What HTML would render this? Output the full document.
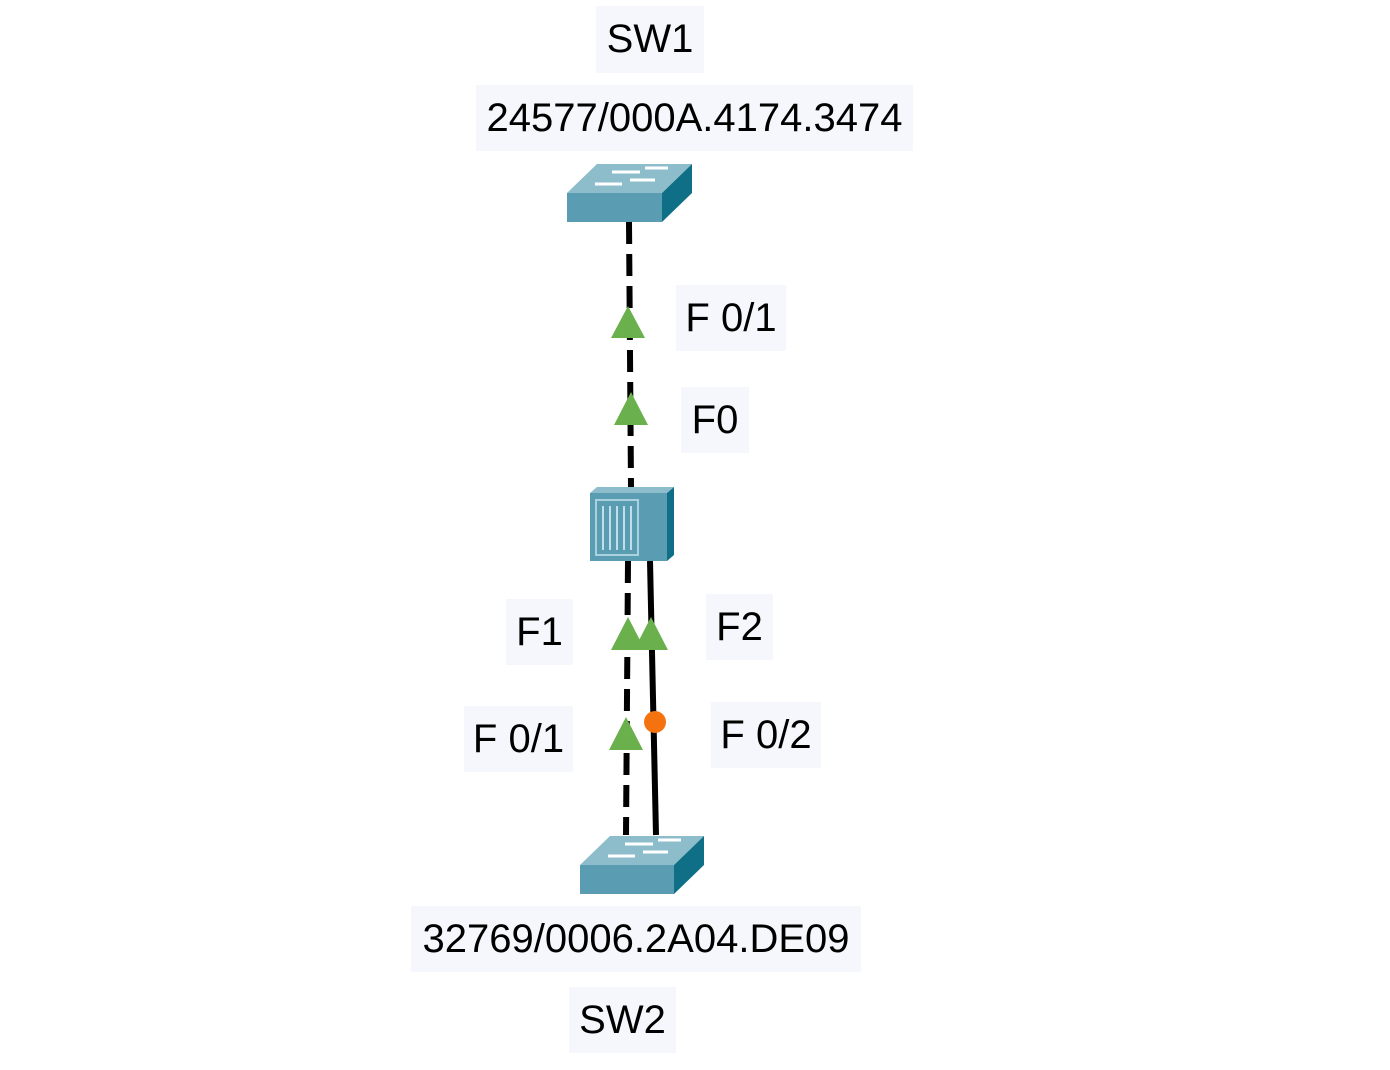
<!DOCTYPE html>
<html><head><style>
body{margin:0;width:1390px;height:1070px;background:#fff;position:relative;overflow:hidden;font-family:"Liberation Sans",Arial,sans-serif}
.l{position:absolute;background:#f6f7fc;font-size:40px;color:#000;display:flex;align-items:center;justify-content:center}
svg{position:absolute;left:0;top:0}
</style></head><body>
<svg width="1390" height="1070">
<g stroke="#000" stroke-width="6" fill="none">
<line x1="629" y1="222" x2="631" y2="487" stroke-dasharray="22,10"/>
<line x1="628" y1="561" x2="626" y2="835" stroke-dasharray="22,10"/>
<line x1="650" y1="561" x2="656" y2="835"/>
</g>
<polygon points="567,193 597,164 692,164 662,193" fill="#8dbccb"/>
<rect x="567" y="193" width="95" height="29" fill="#5a9db3"/>
<polygon points="662,193 692,164 692,193 662,222" fill="#0f6f86"/>
<g stroke="#fff" stroke-width="3"><line x1="612" y1="172" x2="640" y2="172"/><line x1="645" y1="168" x2="668" y2="168"/><line x1="595" y1="184" x2="622" y2="184"/><line x1="630" y1="180" x2="655" y2="180"/></g>
<polygon points="580,865 610,836 704,836 674,865" fill="#8dbccb"/>
<rect x="580" y="865" width="94" height="29" fill="#5a9db3"/>
<polygon points="674,865 704,836 704,865 674,894" fill="#0f6f86"/>
<g stroke="#fff" stroke-width="3"><line x1="625" y1="844" x2="653" y2="844"/><line x1="658" y1="840" x2="681" y2="840"/><line x1="608" y1="856" x2="635" y2="856"/><line x1="643" y1="852" x2="668" y2="852"/></g>
<polygon points="590,493 597,487 674,487 667,493" fill="#8dbccb"/>
<rect x="590" y="493" width="77" height="68" fill="#5a9db3"/>
<polygon points="667,493 674,487 674,555 667,561" fill="#0f6f86"/>
<rect x="596" y="500" width="42" height="55" fill="none" stroke="#a9d2de" stroke-width="2"/>
<g stroke="#bfe0ea" stroke-width="2"><line x1="603" y1="506" x2="603" y2="550"/><line x1="610" y1="506" x2="610" y2="550"/><line x1="617" y1="506" x2="617" y2="550"/><line x1="624" y1="506" x2="624" y2="550"/><line x1="631" y1="506" x2="631" y2="550"/></g>
<g fill="#6ab04c">
<polygon points="628,306 611,338 645,338"/>
<polygon points="631,392 614,425 648,425"/>
<polygon points="628,617 611,650 645,650"/>
<polygon points="651,617 634,650 668,650"/>
<polygon points="626,717 609,750 643,750"/>
</g>
<circle cx="655" cy="722" r="11" fill="#f5730f"/>
</svg>
<div class="l" style="left:596px;top:6px;width:108px;height:67px">SW1</div>
<div class="l" style="left:476px;top:85px;width:437px;height:66px">24577/000A.4174.3474</div>
<div class="l" style="left:676px;top:285px;width:110px;height:66px">F 0/1</div>
<div class="l" style="left:681px;top:387px;width:68px;height:66px">F0</div>
<div class="l" style="left:506px;top:599px;width:67px;height:66px">F1</div>
<div class="l" style="left:706px;top:594px;width:67px;height:66px">F2</div>
<div class="l" style="left:464px;top:706px;width:109px;height:66px">F 0/1</div>
<div class="l" style="left:711px;top:702px;width:110px;height:66px">F 0/2</div>
<div class="l" style="left:411px;top:906px;width:450px;height:66px">32769/0006.2A04.DE09</div>
<div class="l" style="left:569px;top:987px;width:107px;height:66px">SW2</div>
</body></html>
